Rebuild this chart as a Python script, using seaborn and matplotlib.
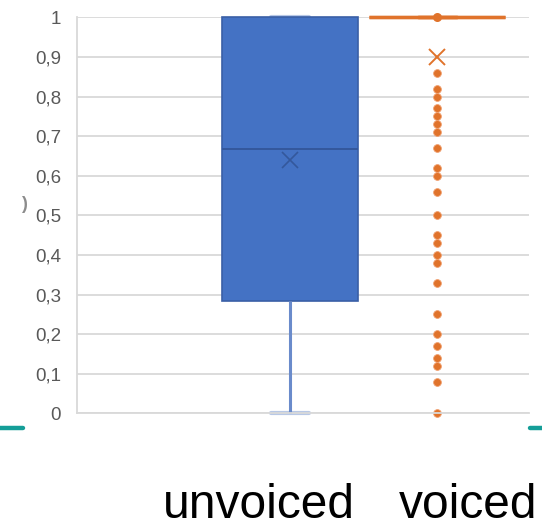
import numpy as np
import pandas as pd
import seaborn as sns
import matplotlib.pyplot as plt
from matplotlib.lines import Line2D

# Data
categories = ["unvoiced", "voiced"]
unvoiced_values = [0, 0.28, 0.283, 0.6, 0.667, 0.93, 1, 1, 1]
voiced_outliers = [0.86, 0.82, 0.80, 0.77, 0.75, 0.73, 0.71, 0.67, 0.62, 0.60,
                   0.56, 0.50, 0.45, 0.43, 0.40, 0.38, 0.33, 0.25, 0.20, 0.17,
                   0.14, 0.12, 0.08, 0.0]
voiced_ones = 103
y_ticks = [0, 0.1, 0.2, 0.3, 0.4, 0.5, 0.6, 0.7, 0.8, 0.9, 1]
y_labels = ["0", "0,1", "0,2", "0,3", "0,4", "0,5", "0,6", "0,7", "0,8", "0,9", "1"]

voiced_values = [1.0] * voiced_ones + voiced_outliers
df = pd.DataFrame({
    "group": ["unvoiced"] * len(unvoiced_values) + ["voiced"] * len(voiced_values),
    "value": unvoiced_values + voiced_values,
})

sns.set_style("white")
plt.rcParams["font.family"] = ["Liberation Sans", "DejaVu Sans"]

W, H = 542, 529
fig = plt.figure(figsize=(W / 100, H / 100), dpi=100)
ax = fig.add_axes([77 / W, 1 - 413.3 / H, (529 - 77) / W, (413.3 - 17.3) / H])

BLUE = "#4472C4"
BLUE_DARK = "#3A5FA6"
ORANGE = "#E0732B"

# unvoiced box
sns.boxplot(
    data=df[df["group"] == "unvoiced"], x="group", y="value", order=categories,
    width=0.92, color=BLUE, saturation=1, linecolor=BLUE_DARK, linewidth=1.2,
    showmeans=True, capwidths=0.26,
    medianprops=dict(color="#34589C", linewidth=1.4),
    whiskerprops=dict(color="#6A8BCB", linewidth=2.2),
    capprops=dict(color="#B8C8E6", linewidth=3, zorder=1),
    meanprops=dict(marker="x", markeredgecolor="#34589C", markersize=11, markeredgewidth=1.2),
    showfliers=False, ax=ax,
)

# voiced box (collapsed at 1, everything else is an outlier)
sns.boxplot(
    data=df[df["group"] == "voiced"], x="group", y="value", order=categories,
    width=0.92, color=ORANGE, saturation=1, linecolor=ORANGE, linewidth=2.4,
    showmeans=True, capwidths=0.26,
    medianprops=dict(color=ORANGE, linewidth=2.4),
    meanprops=dict(marker="x", markeredgecolor=ORANGE, markersize=12, markeredgewidth=1.4),
    flierprops=dict(marker="o", markerfacecolor=ORANGE, markeredgecolor="#F0A070",
                    markersize=5.6, markeredgewidth=0.6),
    ax=ax,
)

# the inner point drawn on the voiced median
sns.stripplot(x=["voiced"], y=[1.0], order=categories, jitter=False,
              color=ORANGE, size=6.5, linewidth=0, zorder=5, ax=ax)

for art in ax.lines + ax.patches + ax.collections:
    art.set_clip_on(False)

ax.set_xlim(-1.44, 1.62)
ax.set_ylim(0, 1)
ax.set_yticks(y_ticks)
ax.set_yticklabels(y_labels)
ax.tick_params(axis="y", length=0, pad=11.5, labelsize=13.5, labelcolor="#595959")
ax.set_xticks([])
ax.set_xlabel("")
ax.set_ylabel("")
ax.grid(axis="y", color="#D9D9D9", linewidth=1.3)
ax.set_axisbelow(True)
for side in ["top", "right"]:
    ax.spines[side].set_visible(False)
for side in ["left", "bottom"]:
    ax.spines[side].set_color("#D9D9D9")
    ax.spines[side].set_linewidth(1.3)

# category names under the chart
label_x = [259, 468]
for name, px in zip(categories, label_x):
    fig.text(px / W, 1 / H, name, ha="center", va="bottom",
             fontsize=34.5, color="black")

# stray marks from the original image
fig.text(24 / W, 1 - 205 / H, ")", ha="center", va="center",
         fontsize=13, color="#8C8C8C", fontweight="bold")
fig.add_artist(Line2D([0, 22.5 / W], [1 - 428 / H] * 2, color="#159E98", lw=3.2))
fig.add_artist(Line2D([530 / W, 1], [1 - 428 / H] * 2, color="#159E98", lw=3.2))

fig.savefig("out.png", dpi=100)
